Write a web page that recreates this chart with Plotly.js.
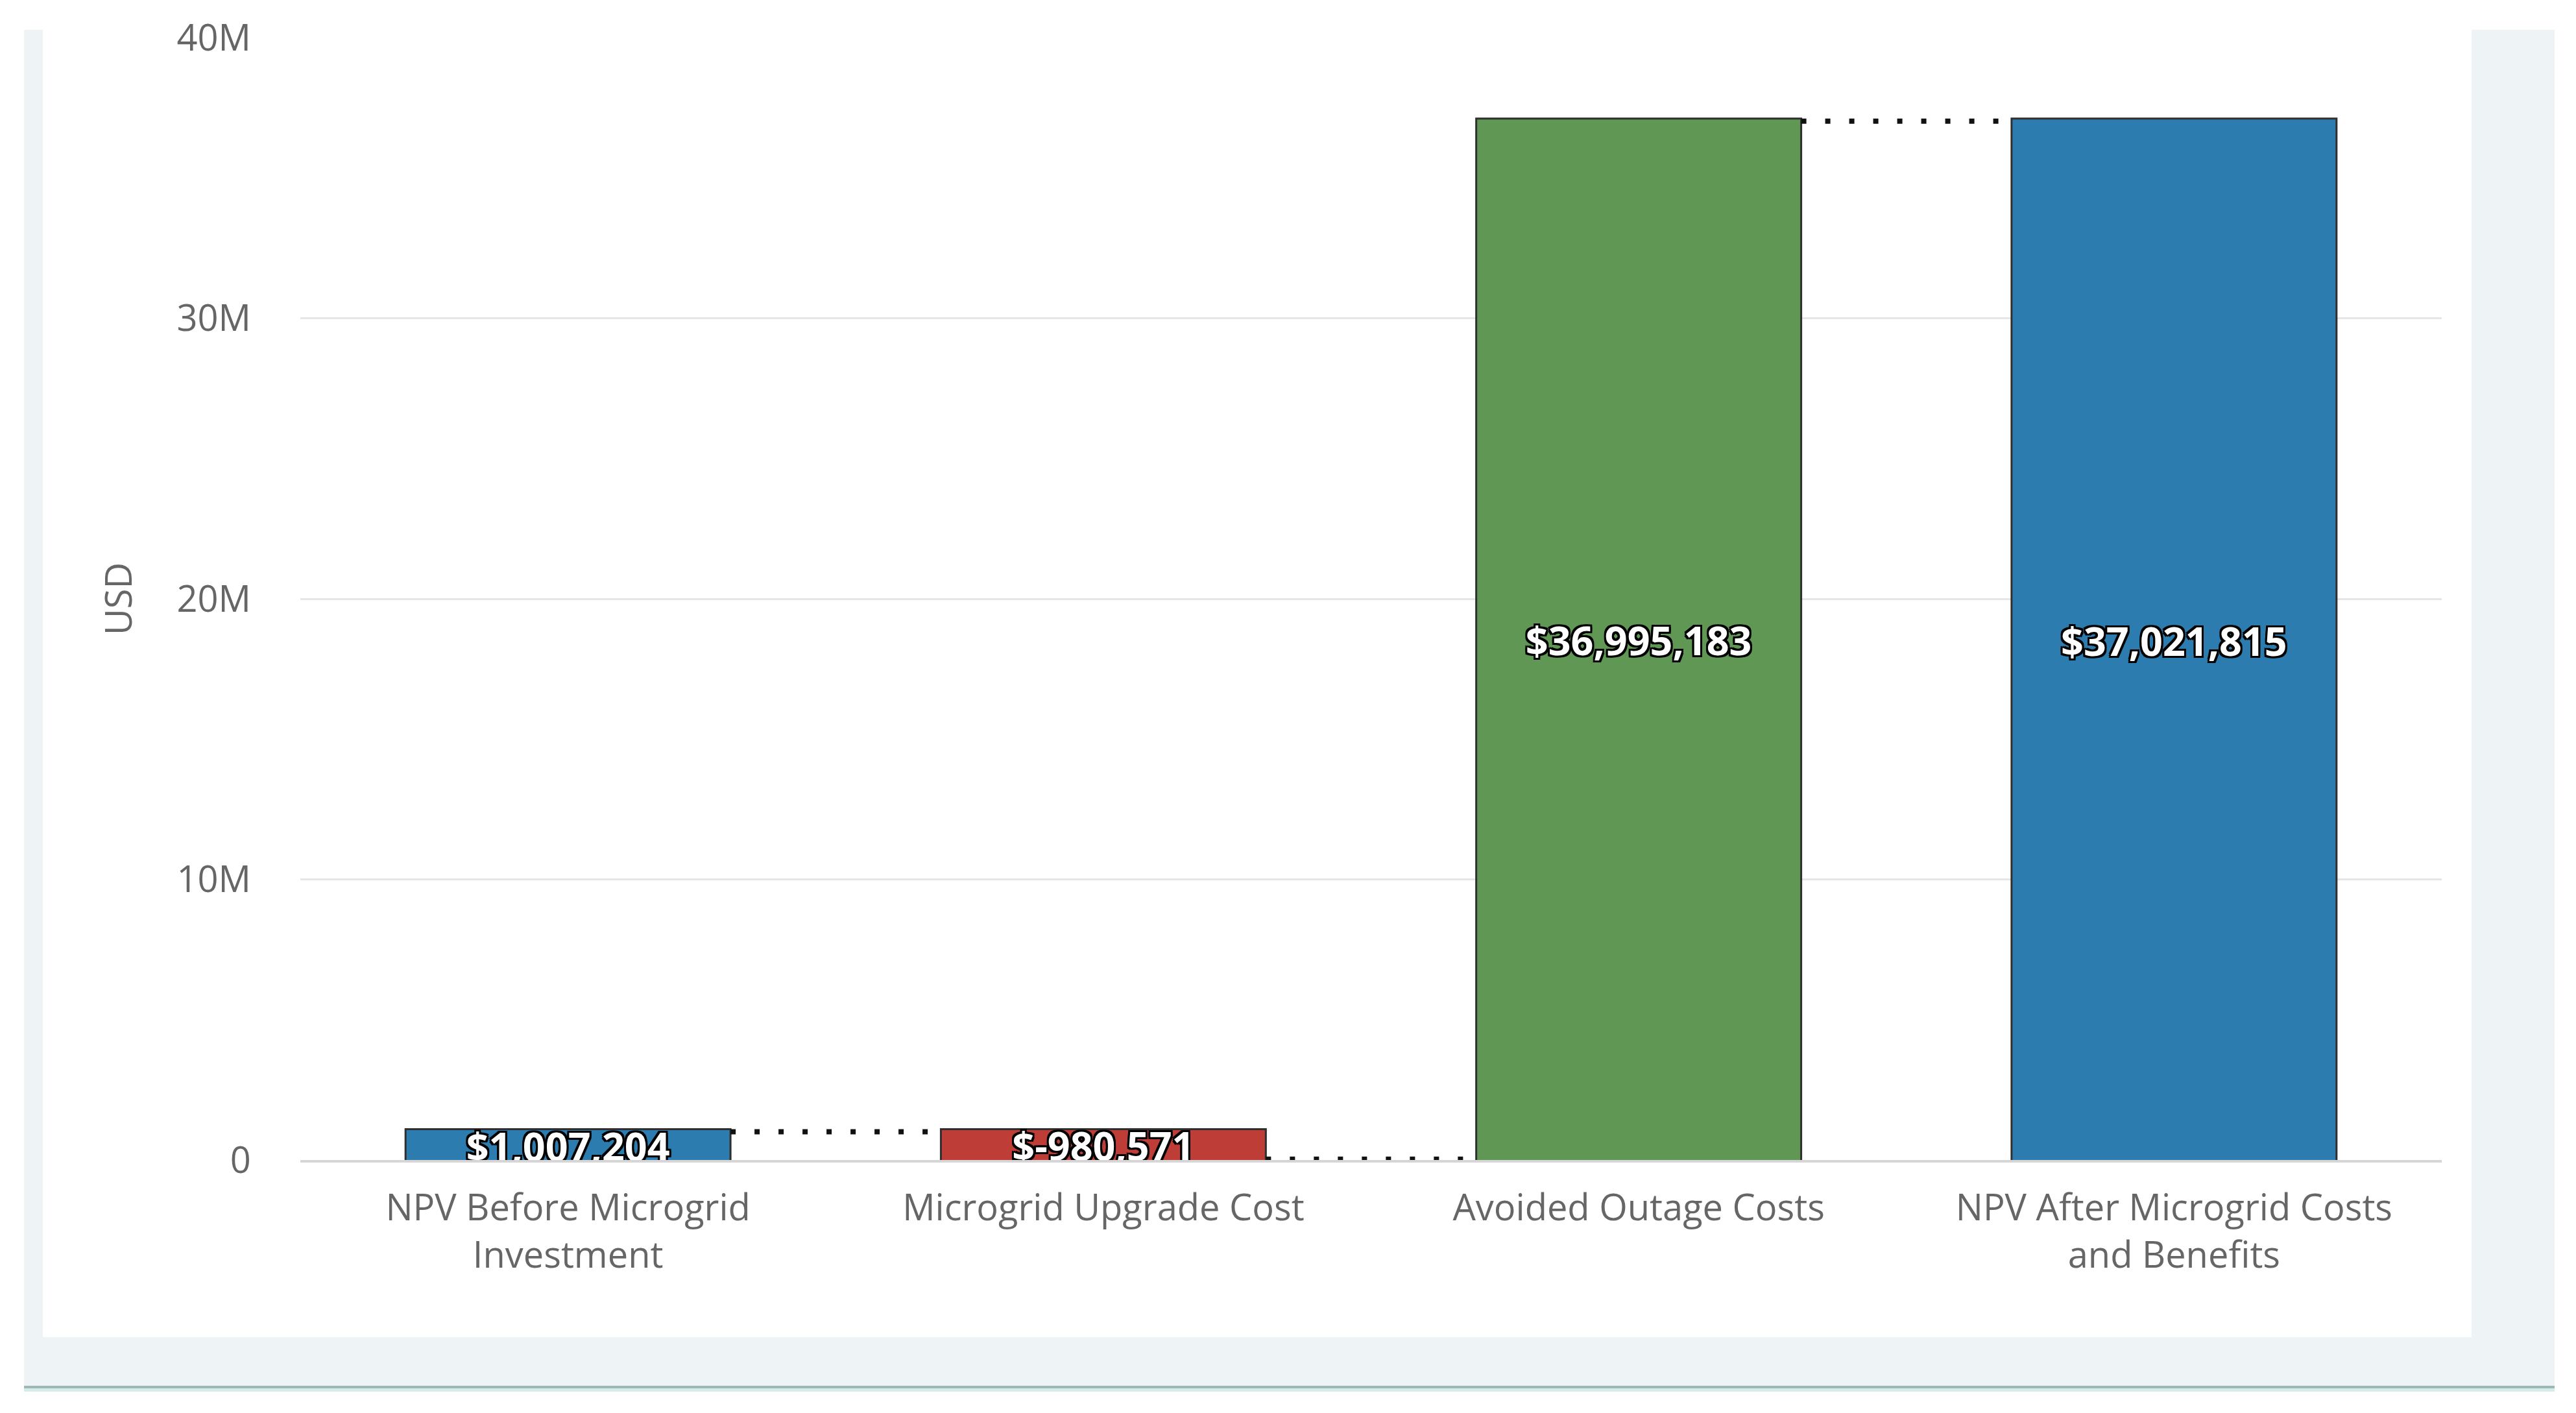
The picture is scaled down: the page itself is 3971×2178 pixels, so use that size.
<!DOCTYPE html>
<html><head><meta charset="utf-8">
<script src="https://cdn.plot.ly/plotly-3.0.1.min.js"></script>
<style>
html,body{margin:0;padding:0;background:#fff;}
#wrap{position:relative;width:3971px;height:2178px;overflow:hidden;background:#fff;}
.band{position:absolute;left:37px;top:46px;width:3901px;height:2090px;background:#eef3f6;}
.inner{position:absolute;left:66px;top:0;width:3744px;height:2061px;background:#fff;}
.teal{position:absolute;left:37px;top:2136px;width:3901px;height:4px;background:#9db8b5;}
.teal2{position:absolute;left:37px;top:2140px;width:3901px;height:5px;background:#d4ecea;}
#chart{position:absolute;left:0;top:0;width:3971px;height:2178px;}
</style></head>
<body>
<div id="wrap"><div class="band"></div><div class="inner"></div><div class="teal"></div><div class="teal2"></div><div id="chart"></div></div>
<script>
const categories = ['NPV Before Microgrid<br>Investment', 'Microgrid Upgrade Cost', 'Avoided Outage Costs', 'NPV After Microgrid Costs<br>and Benefits'];
const measures = ['absolute', 'relative', 'relative', 'total'];
const values = [1007204, -980571, 36995183, 37021815];
const yTickValues = [0, 10000000, 20000000, 30000000, 40000000];
const yTickLabels = ['0', '10M', '20M', '30M', '40M'];
const yAxisTitle = 'USD';

const valueLabels = values.map(v => '$' + v.toLocaleString('en-US'));

const trace = {
  type: 'waterfall',
  x: categories,
  y: values,
  measure: measures,
  text: valueLabels,
  textposition: 'inside',
  insidetextanchor: 'middle',
  constraintext: 'none',
  textangle: 0,
  textfont: {
    family: 'Open Sans, sans-serif', size: 61, weight: 700, color: '#ffffff',
    shadow: '3px 3px 0 #000, -3px -3px 0 #000, 3px -3px 0 #000, -3px 3px 0 #000, 0 3px 0 #000, 0 -3px 0 #000, 3px 0 0 #000, -3px 0 0 #000'
  },
  increasing: {marker: {color: '#619754', line: {color: '#2f2f2f', width: 3}}},
  decreasing: {marker: {color: '#be3e37', line: {color: '#2f2f2f', width: 3}}},
  totals: {marker: {color: '#2c7caf', line: {color: '#2f2f2f', width: 3}}},
  connector: {mode: 'between', line: {color: '#111111', width: 8, dash: '8px,29px'}},
  hoverinfo: 'none',
  showlegend: false
};

const layout = {
  width: 3971, height: 2178,
  margin: {l: 463, r: 207, t: 58, b: 390, pad: 0},
  paper_bgcolor: 'rgba(0,0,0,0)',
  plot_bgcolor: 'rgba(0,0,0,0)',
  font: {family: 'Open Sans, sans-serif', color: '#666666', size: 56},
  waterfallgap: 0.393,
  showlegend: false,
  xaxis: {
    type: 'category',
    showline: true, linecolor: '#d6d6d6', linewidth: 4,
    showgrid: false, zeroline: false,
    ticks: 'outside', ticklen: 22, tickcolor: 'rgba(0,0,0,0)',
    tickfont: {family: 'Open Sans, sans-serif', size: 56, color: '#666666'},
    automargin: false
  },
  yaxis: {
    range: [0, 40000000],
    tickvals: yTickValues, ticktext: yTickLabels,
    showgrid: true, gridcolor: '#e6e6e6', gridwidth: 3,
    zeroline: false, showline: false,
    ticks: 'outside', ticklen: 64, tickcolor: 'rgba(0,0,0,0)',
    tickfont: {family: 'Open Sans, sans-serif', size: 56, color: '#666666'},
    title: {text: yAxisTitle, font: {family: 'Open Sans, sans-serif', size: 56, color: '#666666'}, standoff: 50},
    automargin: false
  }
};

Plotly.newPlot('chart', [trace], layout, {displayModeBar: false, staticPlot: true});
</script>
</body></html>
